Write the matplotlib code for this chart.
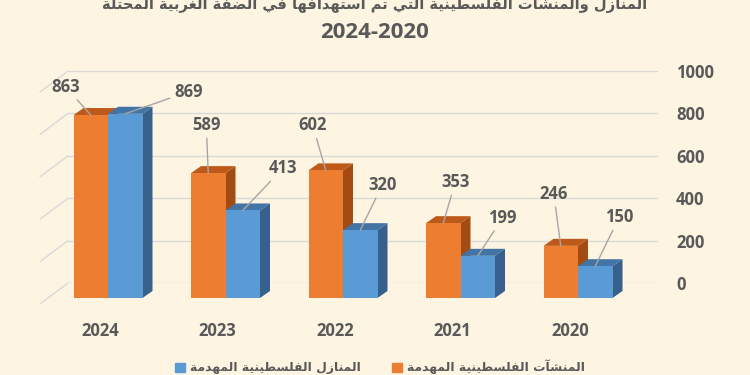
"""3D-style grouped bars: demolished Palestinian homes / structures, West Bank 2020-2024."""
import numpy as np
import matplotlib
matplotlib.use("Agg")
import matplotlib.pyplot as plt
from matplotlib.patches import Polygon, Patch

years = ["2024", "2023", "2022", "2021", "2020"]
structures = [863, 589, 602, 353, 246]   # orange
homes = [869, 413, 320, 199, 150]        # blue
yticks = [0, 200, 400, 600, 800, 1000]

title1 = "المنازل والمنشآت الفلسطينية التي تم استهدافها في الضفة الغربية المحتلة"
title2 = "2024-2020"
leg_structures = "المنشآت الفلسطينية المهدمة"
leg_homes = "المنازل الفلسطينية المهدمة"

# label offsets from bar top (pixels)
off_structures = [(-25, 28), (-2, 48), (-13, 45), (12, 41), (-7, 52)]
off_homes = [(63, 22), (40, 42), (22, 45), (25, 38), (24, 49)]

BG = "#FDF5E1"; INK = "#595959"; GRID = "#D9D9D9"; LEAD = "#A6A6A6"
OR = ("#ED7D31", "#BD5A1A", "#A24C14")   # front, top, side
BL = ("#5B9BD5", "#4274A6", "#37618C")

# --- minimal arabic shaping (presentation forms, reversed for LTR renderer)
AR = {"ا": (0xFE8D, 0), "آ": (0xFE81, 0), "ب": (0xFE8F, 1), "ة": (0xFE93, 0),
      "ت": (0xFE95, 1), "ح": (0xFEA1, 1), "د": (0xFEA9, 0), "ر": (0xFEAD, 0),
      "ز": (0xFEAF, 0), "س": (0xFEB1, 1), "ش": (0xFEB5, 1), "ض": (0xFEBD, 1),
      "ط": (0xFEC1, 1), "غ": (0xFECD, 1), "ف": (0xFED1, 1), "ل": (0xFEDD, 1),
      "م": (0xFEE1, 1), "ن": (0xFEE5, 1), "ه": (0xFEE9, 1), "و": (0xFEED, 0),
      "ي": (0xFEF1, 1)}


def shape(s):
    out = []
    for i, ch in enumerate(s):
        if ch not in AR:
            out.append(ch)
            continue
        base, dual = AR[ch]
        prev = s[i - 1] if i > 0 else ""
        nxt = s[i + 1] if i + 1 < len(s) else ""
        jp = prev in AR and AR[prev][1]
        jn = dual and nxt in AR
        form = 3 if (jp and jn) else 1 if jp else 2 if jn else 0
        out.append(chr(base + form))
    return "".join(out)[::-1]


plt.rcParams.update({"font.family": ["Open Sans", "DejaVu Sans"], "font.weight": "bold",
                     "text.color": INK})

W, H = 750, 375
fig = plt.figure(figsize=(7.5, 3.75), dpi=100, facecolor=BG)
rend = fig.canvas.get_renderer()

# back wall: gridlines + right axis
axb = fig.add_axes([68 / W, (H - 283) / H, 590 / W, 212 / H])
axb.set_facecolor("none")
axb.set_ylim(0, 1000)
axb.set_yticks(yticks)
axb.yaxis.tick_right()
axb.tick_params(axis="y", length=0, pad=13, labelsize=12, labelcolor=INK)
axb.set_xticks([])
axb.grid(axis="y", color=GRID, linewidth=1.0)
for s in axb.spines.values():
    s.set_visible(False)
for v in yticks:  # side wall diagonals
    axb.annotate("", xy=(0, v), xycoords=("axes fraction", "data"),
                 xytext=(-28, -21), textcoords="offset pixels",
                 arrowprops=dict(arrowstyle="-", color=GRID, lw=1.0, shrinkA=0, shrinkB=0))

# front: bars
ax = fig.add_axes([49.25 / W, (H - 298) / H, 587.5 / W, 212 / H])
ax.set_facecolor("none")
ax.set_xlim(-0.5, 4.5)
ax.set_ylim(0, 1000)
for s in ax.spines.values():
    s.set_visible(False)
ax.set_yticks([])

x = np.arange(len(years))
w = 34.5 / 117.5
ddx, ddy = 10 / 117.5, 7 / 0.212


def bar3d(xc, h, cols, z):
    x0, x1 = xc - w / 2, xc + w / 2
    ax.add_patch(Polygon([(x1, 0), (x1, h), (x1 + ddx, h + ddy), (x1 + ddx, ddy)],
                         closed=True, fc=cols[2], ec="none", zorder=z))
    ax.add_patch(Polygon([(x0, h), (x1, h), (x1 + ddx, h + ddy), (x0 + ddx, h + ddy)],
                         closed=True, fc=cols[1], ec="none", zorder=z))
    ax.bar(xc, h, width=w, color=cols[0], zorder=z + 0.5)


for i in range(len(years)):
    bar3d(x[i] - w / 2, structures[i], OR, 2)
    bar3d(x[i] + w / 2, homes[i], BL, 3)

lead = dict(arrowstyle="-", color=LEAD, lw=1.0, shrinkA=1, shrinkB=0)
for i in range(len(years)):
    for xc, v, off in ((x[i] - w / 2, structures[i], off_structures[i]),
                       (x[i] + w / 2, homes[i], off_homes[i])):
        ax.annotate(str(v), xy=(xc, v), xytext=off, textcoords="offset pixels",
                    ha="center", va="center", fontsize=12, fontweight="bold",
                    color=INK, arrowprops=lead, zorder=6)

ax.set_xticks(x - 8 / 117.5)
ax.set_xticklabels(years)
ax.tick_params(axis="x", length=0, pad=17, labelsize=12, labelcolor=INK)

# titles (line 1 is cut by the top edge in the original too)
t1 = fig.text(0.5, 1 - 4 / H, shape(title1), ha="center", va="center", fontsize=16,
              fontweight="bold", family=["DejaVu Sans"], color=INK)
t1.set_fontsize(16 * 548 / t1.get_window_extent(rend).width)
fig.text(0.5, 1 - 32 / H, title2, ha="center", va="center", fontsize=16,
         fontweight="bold", color=INK)

# legend: fit the arabic labels to the widths in the original
probe = fig.text(0, 0, shape(leg_homes), fontsize=11, fontweight="bold", family=["DejaVu Sans"])
leg_size = 11 * 170 / probe.get_window_extent(rend).width
probe.remove()
handles = [Patch(color=BL[0]), Patch(color=OR[0])]
fig.legend(handles, [shape(leg_homes), shape(leg_structures)], ncol=2, loc="center",
           bbox_to_anchor=(380 / W, 1 - 367 / H), frameon=False, handlelength=0.75,
           handleheight=0.75, handletextpad=0.4, columnspacing=2.6,
           prop=dict(family=["DejaVu Sans"], weight="bold", size=leg_size))

fig.savefig("out.png", dpi=100, facecolor=BG)
